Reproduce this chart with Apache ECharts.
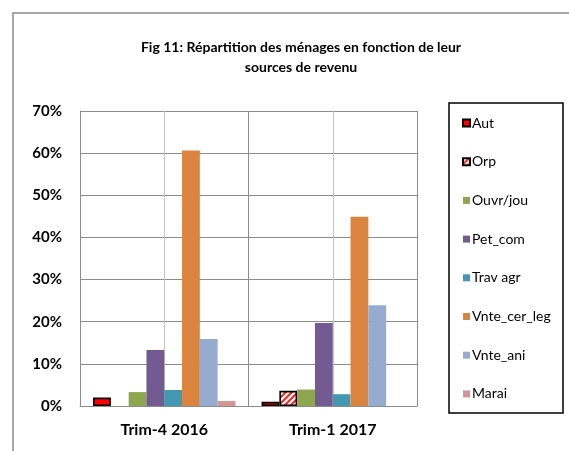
<!DOCTYPE html>
<html>
<head>
<meta charset="utf-8">
<script src="https://cdn.jsdelivr.net/npm/echarts@6/dist/echarts.min.js"></script>
<style>
  html, body { margin: 0; padding: 0; background: #fff; }
  #chart { width: 569px; height: 451px; }
</style>
</head>
<body>
<div id="chart"></div>
<script>
// categories
const periods = ['Trim-4 2016', 'Trim-1 2017'];
const seriesNames = ['Aut', 'Orp', 'Ouvr/jou', 'Pet_com', 'Trav agr', 'Vnte_cer_leg', 'Vnte_ani', 'Marai'];
// values in percent, per period
const aut = [2.0, 1.0];
const orp = [0, 3.6];
const ouvr = [3.3, 3.9];
const petCom = [13.3, 19.7];
const travAgr = [3.8, 2.8];
const vnteCer = [60.6, 44.9];
const vnteAni = [15.9, 23.9];
const marai = [1.2, 0];
const yTicks = [0, 10, 20, 30, 40, 50, 60, 70];

const font = 'Lato';
const gridGray = '#8c8c8c';

// hachures rouges pour Orp
function makeHatch() {
  const c = document.createElement('canvas');
  c.width = 6; c.height = 6;
  const ctx = c.getContext('2d');
  ctx.fillStyle = '#fff';
  ctx.fillRect(0, 0, 6, 6);
  ctx.strokeStyle = '#ff2020';
  ctx.lineWidth = 2;
  ctx.beginPath();
  ctx.moveTo(-1, 7); ctx.lineTo(7, -1);
  ctx.moveTo(-4, 4); ctx.lineTo(4, -4);
  ctx.moveTo(2, 10); ctx.lineTo(10, 2);
  ctx.stroke();
  return c;
}

const values = [aut, orp, ouvr, petCom, travAgr, vnteCer, vnteAni, marai];
const colors = ['#ff0000', { image: makeHatch(), repeat: 'repeat' }, '#8ea74f', '#735a93', '#4399b1', '#db843e', '#95abd0', '#d49694'];

const series = seriesNames.map((name, i) => {
  const s = {
    name: name,
    type: 'bar',
    barGap: '0%',
    barCategoryGap: '15.5%',
    // une valeur nulle ne dessine pas de barre
    data: values[i].map(v => (v === 0 ? '-' : v)),
    itemStyle: { color: colors[i] },
    animation: false
  };
  if (name === 'Aut' || name === 'Orp') {
    s.itemStyle.borderColor = '#000';
    s.itemStyle.borderWidth = 1.6;
  }
  return s;
});

// lignes claires au centre de chaque catégorie, derrière les barres
series.push({
  name: 'centre',
  type: 'custom',
  z: 1,
  silent: true,
  data: periods.map((p, i) => [i]),
  renderItem: (params, api) => {
    const top = api.coord([api.value(0), yTicks[yTicks.length - 1]]);
    const bottom = api.coord([api.value(0), yTicks[0]]);
    const x = Math.round(top[0]) + 0.5;
    return {
      type: 'line',
      shape: { x1: x, y1: top[1], x2: x, y2: bottom[1] },
      style: { stroke: '#c4c4c4', lineWidth: 1 }
    };
  }
});

const myChart = echarts.init(document.getElementById('chart'));
const option = {
  backgroundColor: '#fff',
  animation: false,
  graphic: [
    {
      type: 'rect',
      shape: { x: 13, y: 13, width: 700, height: 600 },
      style: { fill: 'none', stroke: gridGray, lineWidth: 1.5 },
      silent: true
    },
    {
      type: 'rect',
      shape: { x: 449, y: 103, width: 114, height: 310 },
      style: { fill: 'none', stroke: '#000', lineWidth: 1.5 },
      silent: true
    },
    {
      type: 'text',
      x: 301,
      y: 37,
      style: {
        text: 'Fig 11: Répartition des ménages en fonction de leur\nsources de revenu',
        font: 'bold 14px ' + font,
        lineHeight: 20,
        fill: '#000',
        textAlign: 'center'
      },
      silent: true
    }
  ],
  legend: {
    data: seriesNames,
    orient: 'vertical',
    left: 457,
    top: 111,
    icon: 'rect',
    itemWidth: 7,
    itemHeight: 7,
    itemGap: 24.7,
    textStyle: { fontFamily: font, fontSize: 14, color: '#000', padding: [0, 0, 0, -3], lineHeight: 14 },
    selectedMode: false
  },
  grid: { left: 80, top: 111, right: 152, bottom: 45 },
  xAxis: {
    type: 'category',
    data: periods,
    axisLine: { lineStyle: { color: gridGray, width: 1 } },
    axisTick: { show: false },
    splitLine: { show: true, lineStyle: { color: gridGray, width: 1 } },
    axisLabel: { fontFamily: font, fontSize: 16, fontWeight: 'bold', color: '#000', margin: 16 }
  },
  yAxis: {
    type: 'value',
    min: yTicks[0],
    max: yTicks[yTicks.length - 1],
    interval: 10,
    axisLine: { show: true, lineStyle: { color: gridGray, width: 1 } },
    axisTick: { show: false },
    splitLine: { lineStyle: { color: gridGray, width: 1 } },
    axisLabel: { formatter: '{value}%', fontFamily: font, fontSize: 15, fontWeight: 'bold', color: '#000', margin: 18 }
  },
  series: series
};
myChart.setOption(option);
</script>
</body>
</html>
